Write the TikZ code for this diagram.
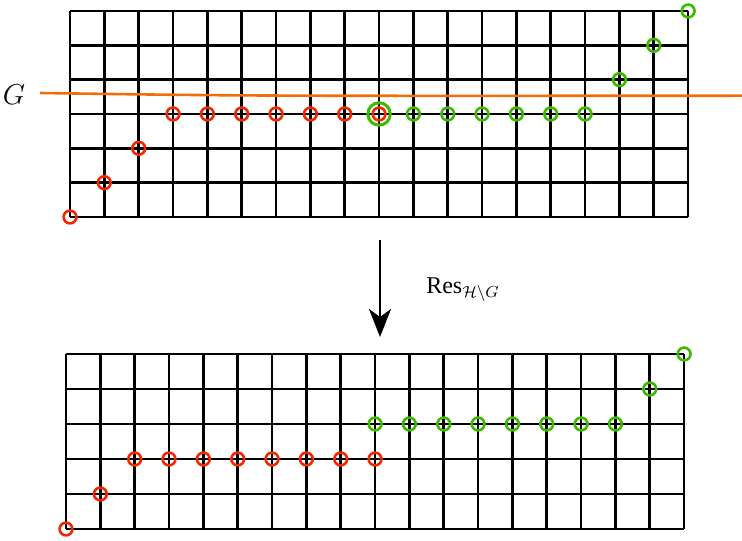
\documentclass[tikz,border=0pt]{standalone}
\usepackage{fontspec}
\setmainfont{Liberation Serif}
\usetikzlibrary{arrows.meta}
\definecolor{ptred}{RGB}{240,40,0}
\definecolor{ptgreen}{RGB}{60,185,0}
\definecolor{cutorange}{RGB}{240,110,10}
\begin{document}
\begin{tikzpicture}[x=0.5pt, y=0.5pt, line width=1.3pt,
    redpt/.style={draw=ptred, line width=1.3pt},
    greenpt/.style={draw=ptgreen, line width=1.3pt}]
  \useasboundingbox (0,0) rectangle (742,540);
  % upper lattice, 18 x 6
  \begin{scope}[shift={(70,323)}, x=17.17pt, y=17.17pt]
    \foreach \i in {0,...,18} \draw (\i,0) -- (\i,6);
    \foreach \j in {0,...,6} \draw (0,\j) -- (18,\j);
    \foreach \i/\j in {0/0,1/1,2/2,3/3,4/3,5/3,6/3,7/3,8/3,9/3}
      \draw[redpt] (\i,\j) circle (3.2pt);
    \foreach \i/\j in {10/3,11/3,12/3,13/3,14/3,15/3,16/4,17/5,18/6}
      \draw[greenpt] (\i,\j) circle (3.2pt);
    \draw[greenpt, line width=1.5pt] (9,3) circle (5.6pt);
  \end{scope}
  % the cut
  \draw[cutorange, line width=1.3pt] (40,447) .. controls (250,444) .. (742,444.3);
  \node (glabel) at (14,445) {\fontsize{14}{16}\selectfont$G$};
  % restriction arrow
  \coordinate (top) at (380,300);
  \coordinate (bot) at (380,203);
  \draw[-{Stealth[length=14pt, width=11pt, inset=4pt]}, line width=1.2pt] (top) -- (bot);
  \node[anchor=base west, inner sep=0pt] (res) at (425,246)
    {\fontsize{12}{14}\selectfont Res$_{\mathcal{H}\backslash G}$};
  % lower lattice, 18 x 5
  \begin{scope}[shift={(66,11)}, x=17.17pt, y=17.5pt]
    \foreach \i in {0,...,18} \draw (\i,0) -- (\i,5);
    \foreach \j in {0,...,5} \draw (0,\j) -- (18,\j);
    \foreach \i/\j in {0/0,1/1,2/2,3/2,4/2,5/2,6/2,7/2,8/2,9/2}
      \draw[redpt] (\i,\j) circle (3.2pt);
    \foreach \i/\j in {9/3,10/3,11/3,12/3,13/3,14/3,15/3,16/3,17/4,18/5}
      \draw[greenpt] (\i,\j) circle (3.2pt);
  \end{scope}
\end{tikzpicture}
\end{document}
